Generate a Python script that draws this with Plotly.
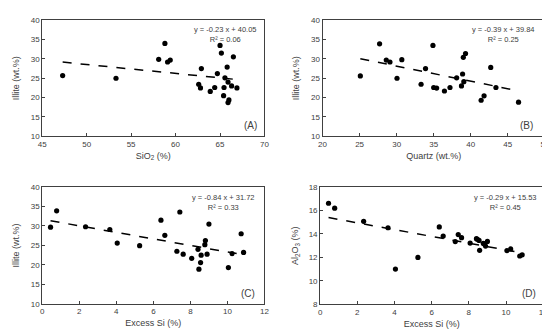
import plotly.graph_objects as go

# ---- data ----
sio2 = [47.3, 53.3, 58.1, 58.8, 59.1, 59.4, 62.6, 62.8, 62.9, 63.9, 64.4, 64.7,
        65.0, 65.15, 65.4, 65.45, 65.55, 65.8, 65.9, 65.9, 66.0, 66.3, 66.5, 66.9]
illite_a = [25.7, 25.0, 29.9, 34.0, 29.2, 29.7, 23.45, 22.5, 27.5, 21.6, 22.6, 26.2,
            33.5, 31.5, 20.5, 22.6, 25.1, 27.9, 24.0, 18.7, 19.4, 23.0, 30.55, 22.5]

quartz = [25.1, 27.7, 28.6, 29.1, 30.05, 30.7, 33.3, 33.9, 34.9, 35.0, 35.4, 36.45,
          37.2, 38.1, 38.75, 38.9, 39.0, 39.07, 39.3, 41.4, 41.8, 42.7, 43.4, 46.45]
illite_b = [25.6, 33.9, 29.7, 29.2, 25.0, 29.8, 23.45, 27.5, 33.5, 22.6, 22.45, 21.7,
            22.6, 25.1, 23.0, 26.1, 30.4, 24.1, 31.4, 19.3, 20.45, 27.8, 22.6, 18.8]

excess_si = [0.45, 0.78, 2.34, 3.65, 4.05, 5.26, 6.41, 6.62, 7.27, 7.43, 7.61, 8.07,
             8.41, 8.46, 8.55, 8.58, 8.78, 8.81, 8.9, 9.0, 10.05, 10.25, 10.74, 10.87]
illite_c = [29.7, 33.9, 29.8, 29.1, 25.6, 24.95, 31.5, 27.6, 23.5, 33.6, 22.75, 21.7,
            24.0, 18.9, 20.6, 22.5, 25.2, 26.25, 22.75, 30.5, 19.3, 22.9, 28.0, 23.2]
al2o3 = [16.62, 16.2, 15.08, 14.53, 11.0, 12.0, 14.6, 13.82, 13.35, 13.95, 13.68, 13.22,
         13.6, 13.55, 13.45, 12.6, 13.2, 13.16, 12.97, 13.36, 12.58, 12.72, 12.12, 12.22]

slopes = [-0.23, -0.39, -0.84, -0.29]
intercepts = [40.05, 39.84, 31.72, 15.53]
r2 = [0.06, 0.25, 0.33, 0.45]
panel_labels = ["(A)", "(B)", "(C)", "(D)"]

xs = [sio2, quartz, excess_si, excess_si]
ys = [illite_a, illite_b, illite_c, al2o3]
x_titles = ["SiO<sub>2</sub> (%)", "Quartz (wt.%)", "Excess Si (%)", "Excess Si (%)"]
y_titles = ["Illite (wt.%)", "Illite (wt.%)", "Illite (wt.%)", "Al<sub>2</sub>O<sub>3</sub> (%)"]
x_ranges = [(45, 70), (20, 50), (0, 12), (0, 12)]
x_dticks = [5, 5, 2, 2]
y_ranges = [(10, 40), (10, 40), (10, 40), (8, 18)]
y_dticks = [5, 5, 5, 2]

W, H = 550, 329
# plot-area pixel boxes (left, right, top, bottom)
boxes = [(30.7, 256.7, 8.5, 127.7), (315.7, 541.7, 8.5, 127.7),
         (30.7, 256.7, 180.0, 300.0), (313.3, 540.0, 180.0, 300.5)]
eq_pos = [(0.975, 0.975), (0.967, 0.975), (0.967, 0.965), (0.981, 0.965)]
lab_pos = [(0.975, 0.09), (0.955, 0.09), (0.967, 0.09), (0.975, 0.09)]
y_standoff = [9, 9, 9, 8]

TXT = "#404040"
LINE = "#404040"
FONT = "Liberation Sans, Arial, sans-serif"

fig = go.Figure()
layout = {}
annotations = []
for i in range(4):
    n = "" if i == 0 else str(i + 1)
    xa, ya = "x" + n, "y" + n
    fig.add_trace(go.Scatter(x=xs[i], y=ys[i], mode="markers", xaxis=xa, yaxis=ya,
                             marker=dict(color="black", size=5.2), showlegend=False,
                             hoverinfo="skip"))
    x0, x1 = min(xs[i]), max(xs[i])
    fig.add_trace(go.Scatter(x=[x0, x1],
                             y=[slopes[i] * x0 + intercepts[i], slopes[i] * x1 + intercepts[i]],
                             mode="lines", xaxis=xa, yaxis=ya,
                             line=dict(color="black", width=1.5, dash="dash"),
                             showlegend=False, hoverinfo="skip"))
    l, r, t, b = boxes[i]
    common = dict(showline=True, linecolor=LINE, linewidth=1, mirror=True,
                  ticks="inside", ticklen=3, tickcolor=LINE, showgrid=False,
                  zeroline=False, tickfont=dict(size=8, color=TXT, family=FONT))
    layout["xaxis" + n] = dict(domain=[l / W, r / W], anchor=ya, range=list(x_ranges[i]),
                               dtick=x_dticks[i], tick0=0,
                               title=dict(text=x_titles[i], standoff=4,
                                          font=dict(size=9, color=TXT, family=FONT)),
                               **common)
    layout["yaxis" + n] = dict(domain=[1 - b / H, 1 - t / H], anchor=xa, range=list(y_ranges[i]),
                               dtick=y_dticks[i], tick0=0,
                               title=dict(text=y_titles[i], standoff=y_standoff[i],
                                          font=dict(size=9, color=TXT, family=FONT)),
                               **common)
    annotations.append(dict(xref=xa + " domain", yref=ya + " domain",
                            x=eq_pos[i][0], y=eq_pos[i][1], xanchor="right", yanchor="top",
                            align="center", showarrow=False,
                            text=f"y = {slopes[i]:.2f} x + {intercepts[i]:.2f}<br>R² = {r2[i]:.2f}",
                            font=dict(size=7.5, color=TXT, family=FONT)))
    annotations.append(dict(xref=xa + " domain", yref=ya + " domain",
                            x=lab_pos[i][0], y=lab_pos[i][1], xanchor="right", yanchor="middle",
                            showarrow=False, text=panel_labels[i],
                            font=dict(size=10, color=TXT, family=FONT)))

fig.update_layout(width=W, height=H, margin=dict(l=0, r=0, t=0, b=0),
                  paper_bgcolor="white", plot_bgcolor="white",
                  annotations=annotations, **layout)
fig.write_html("out.html")
